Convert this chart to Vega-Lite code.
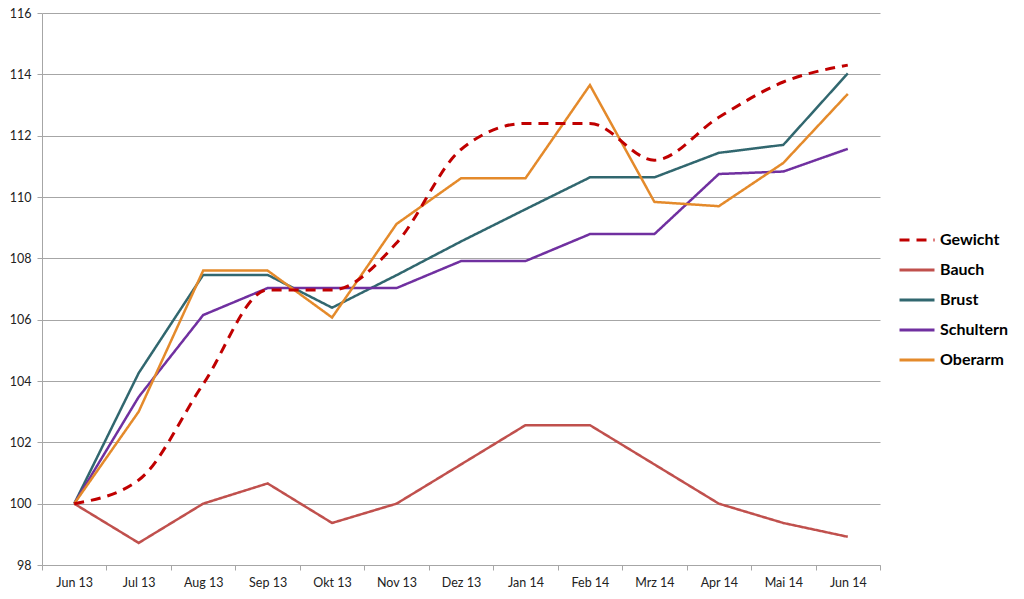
{
  "$schema": "https://vega.github.io/schema/vega-lite/v6.json",
  "autosize": {"type": "none"},
  "padding": {"left": 42, "top": 13, "right": 144, "bottom": 34},
  "width": 838,
  "height": 552,
  "background": "white",
  "config": {
    "view": {"stroke": null},
    "font": "Lato",
    "axis": {"labelFont": "Lato", "labelFontSize": 12.5, "labelColor": "#222222", "gridColor": "#a6a6a6", "domainColor": "#a6a6a6", "tickColor": "#a6a6a6", "title": null}
  },
  "data": {
    "values": [
      {"m": "Jun 13", "s": "Gewicht", "v": 100}, {"m": "Jul 13", "s": "Gewicht", "v": 100.77}, {"m": "Aug 13", "s": "Gewicht", "v": 103.9}, {"m": "Sep 13", "s": "Gewicht", "v": 106.97}, {"m": "Okt 13", "s": "Gewicht", "v": 106.97}, {"m": "Nov 13", "s": "Gewicht", "v": 108.5}, {"m": "Dez 13", "s": "Gewicht", "v": 111.55}, {"m": "Jan 14", "s": "Gewicht", "v": 112.4}, {"m": "Feb 14", "s": "Gewicht", "v": 112.4}, {"m": "Mrz 14", "s": "Gewicht", "v": 111.2}, {"m": "Apr 14", "s": "Gewicht", "v": 112.6}, {"m": "Mai 14", "s": "Gewicht", "v": 113.75}, {"m": "Jun 14", "s": "Gewicht", "v": 114.3},
      {"m": "Jun 13", "s": "Bauch", "v": 100}, {"m": "Jul 13", "s": "Bauch", "v": 98.72}, {"m": "Aug 13", "s": "Bauch", "v": 100}, {"m": "Sep 13", "s": "Bauch", "v": 100.66}, {"m": "Okt 13", "s": "Bauch", "v": 99.37}, {"m": "Nov 13", "s": "Bauch", "v": 100}, {"m": "Dez 13", "s": "Bauch", "v": 101.28}, {"m": "Jan 14", "s": "Bauch", "v": 102.56}, {"m": "Feb 14", "s": "Bauch", "v": 102.56}, {"m": "Mrz 14", "s": "Bauch", "v": 101.28}, {"m": "Apr 14", "s": "Bauch", "v": 100}, {"m": "Mai 14", "s": "Bauch", "v": 99.37}, {"m": "Jun 14", "s": "Bauch", "v": 98.92},
      {"m": "Jun 13", "s": "Brust", "v": 100}, {"m": "Jul 13", "s": "Brust", "v": 104.26}, {"m": "Aug 13", "s": "Brust", "v": 107.46}, {"m": "Sep 13", "s": "Brust", "v": 107.46}, {"m": "Okt 13", "s": "Brust", "v": 106.39}, {"m": "Nov 13", "s": "Brust", "v": 107.45}, {"m": "Dez 13", "s": "Brust", "v": 108.55}, {"m": "Jan 14", "s": "Brust", "v": 109.6}, {"m": "Feb 14", "s": "Brust", "v": 110.64}, {"m": "Mrz 14", "s": "Brust", "v": 110.64}, {"m": "Apr 14", "s": "Brust", "v": 111.44}, {"m": "Mai 14", "s": "Brust", "v": 111.7}, {"m": "Jun 14", "s": "Brust", "v": 114.03},
      {"m": "Jun 13", "s": "Schultern", "v": 100}, {"m": "Jul 13", "s": "Schultern", "v": 103.48}, {"m": "Aug 13", "s": "Schultern", "v": 106.15}, {"m": "Sep 13", "s": "Schultern", "v": 107.03}, {"m": "Okt 13", "s": "Schultern", "v": 107.03}, {"m": "Nov 13", "s": "Schultern", "v": 107.03}, {"m": "Dez 13", "s": "Schultern", "v": 107.91}, {"m": "Jan 14", "s": "Schultern", "v": 107.91}, {"m": "Feb 14", "s": "Schultern", "v": 108.79}, {"m": "Mrz 14", "s": "Schultern", "v": 108.79}, {"m": "Apr 14", "s": "Schultern", "v": 110.75}, {"m": "Mai 14", "s": "Schultern", "v": 110.83}, {"m": "Jun 14", "s": "Schultern", "v": 111.57},
      {"m": "Jun 13", "s": "Oberarm", "v": 100}, {"m": "Jul 13", "s": "Oberarm", "v": 103.0}, {"m": "Aug 13", "s": "Oberarm", "v": 107.6}, {"m": "Sep 13", "s": "Oberarm", "v": 107.6}, {"m": "Okt 13", "s": "Oberarm", "v": 106.07}, {"m": "Nov 13", "s": "Oberarm", "v": 109.12}, {"m": "Dez 13", "s": "Oberarm", "v": 110.61}, {"m": "Jan 14", "s": "Oberarm", "v": 110.61}, {"m": "Feb 14", "s": "Oberarm", "v": 113.65}, {"m": "Mrz 14", "s": "Oberarm", "v": 109.84}, {"m": "Apr 14", "s": "Oberarm", "v": 109.7}, {"m": "Mai 14", "s": "Oberarm", "v": 111.11}, {"m": "Jun 14", "s": "Oberarm", "v": 113.36}
    ]
  },
  "encoding": {
    "x": {
      "field": "m", "type": "ordinal", "sort": null,
      "scale": {"paddingInner": 0, "paddingOuter": 0},
      "axis": {"labelAngle": 0, "tickBand": "extent", "tickSize": 5, "labelPadding": 6, "domainColor": "#a6a6a6", "grid": false}
    },
    "y": {
      "field": "v", "type": "quantitative",
      "scale": {"domain": [98, 116], "nice": false, "zero": false},
      "axis": {"values": [98, 100, 102, 104, 106, 108, 110, 112, 114, 116], "tickSize": 5, "labelPadding": 6, "grid": true}
    },
    "color": {
      "field": "s", "type": "nominal",
      "scale": {"domain": ["Gewicht", "Bauch", "Brust", "Schultern", "Oberarm"], "range": ["#C00000", "#C0504D", "#31676F", "#7030A0", "#E48A2B"]},
      "legend": {
        "title": null, "orient": "none", "legendX": 856, "legendY": 208,
        "symbolType": "stroke", "symbolSize": 1225, "symbolStrokeWidth": 3,
        "labelFont": "Lato", "labelFontSize": 16, "labelFontWeight": "bold", "labelColor": "#000000",
        "rowPadding": 3, "labelOffset": 4
      }
    },
    "strokeDash": {
      "field": "s", "type": "nominal",
      "scale": {"domain": ["Gewicht", "Bauch", "Brust", "Schultern", "Oberarm"], "range": [[10, 7], [1, 0], [1, 0], [1, 0], [1, 0]]},
      "legend": null
    }
  },
  "layer": [
    {
      "transform": [{"filter": "datum.s !== 'Gewicht'"}],
      "mark": {"type": "line", "strokeWidth": 2.5}
    },
    {
      "transform": [{"filter": "datum.s === 'Gewicht'"}],
      "mark": {"type": "line", "strokeWidth": 3, "interpolate": "monotone"}
    }
  ]
}
